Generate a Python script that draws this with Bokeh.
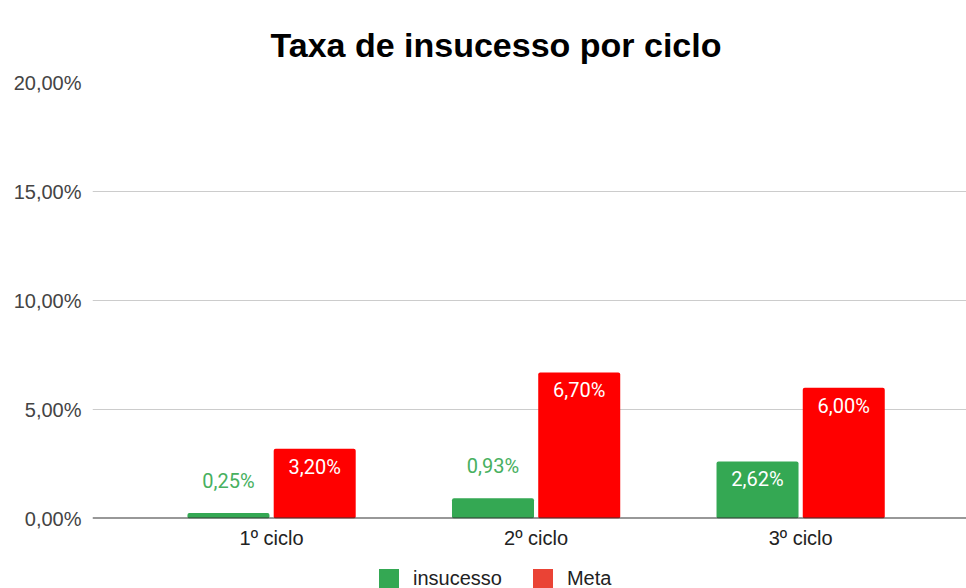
from bokeh.plotting import figure
from bokeh.layouts import column
from bokeh.models import (ColumnDataSource, FixedTicker, Span, Legend, LegendItem, Title)
from bokeh.embed import file_html
from bokeh.resources import INLINE
from bokeh.core.properties import value

# ---- data ----
categories = ["1º ciclo", "2º ciclo", "3º ciclo"]
insucesso = [0.25, 0.93, 2.62]
meta = [3.20, 6.70, 6.00]
y_ticks = [0, 5, 10, 15, 20]
y_tick_labels = ["0,00%", "5,00%", "10,00%", "15,00%", "20,00%"]
title_text = "Taxa de insucesso por ciclo"
series_names = ["insucesso", "Meta"]

AX_FONT = "Liberation Sans"
LBL_FONT = "Roboto"
GREEN = "#34a853"
RED_BAR = "#ff0000"
RED_LEG = "#ea4335"

p = figure(width=966, height=558, output_backend="svg", toolbar_location=None,
           x_range=(-0.677, 2.627), y_range=(0, 20),
           min_border_left=92, min_border_right=0, min_border_top=82,
           min_border_bottom=40)
p.outline_line_color = None
p.background_fill_color = "white"

xs = list(range(len(categories)))
off = 0.163
w = 0.31
src_g = ColumnDataSource(dict(x=[x - off for x in xs], top=insucesso))
src_r = ColumnDataSource(dict(x=[x + off for x in xs], top=meta))
p.vbar(x="x", top="top", width=w, source=src_g, fill_color=GREEN, line_color=None,
       border_radius=2)
p.vbar(x="x", top="top", width=w, source=src_r, fill_color=RED_BAR, line_color=None,
       border_radius=2)

def fmt(v):
    return f"{v:.2f}%".replace(".", ",")

def label_src(xs_, vals, base_color):
    inside = [v > 1.5 for v in vals]
    return ColumnDataSource(dict(
        x=xs_, y=vals, text=[fmt(v) for v in vals],
        yoff=[18 if i else -32 for i in inside],
        color=["white" if i else base_color for i in inside]))

for s, vals, col in ((src_g, insucesso, "#47b060"), (src_r, meta, RED_BAR)):
    ls = label_src(list(s.data["x"]), vals, col)
    p.text(x="x", y="y", text="text", y_offset="yoff", text_color="color", source=ls,
           text_align="center", text_baseline="middle", text_font=value(LBL_FONT),
           text_font_size="20px")

# baseline
p.add_layout(Span(location=0, dimension="width", line_color="#333333", line_width=2))

# axes
p.yaxis.ticker = FixedTicker(ticks=y_ticks)
p.yaxis.major_label_overrides = {t: l for t, l in zip(y_ticks, y_tick_labels)}
p.xaxis.ticker = FixedTicker(ticks=xs)
p.xaxis.major_label_overrides = {x: c for x, c in zip(xs, categories)}
for ax in (p.xaxis, p.yaxis):
    ax.axis_line_color = None
    ax.major_tick_line_color = None
    ax.minor_tick_line_color = None
    ax.major_tick_out = 0
    ax.major_tick_in = 0
    ax.minor_tick_out = 0
    ax.major_label_text_font = AX_FONT
    ax.major_label_text_font_size = "20px"
p.yaxis.major_label_standoff = 11
p.xaxis.major_label_standoff = 8
p.yaxis.major_label_text_color = "#444444"
p.xaxis.major_label_text_color = "#222222"
p.xgrid.grid_line_color = None
p.ygrid.grid_line_color = "#cccccc"
p.ygrid.ticker = FixedTicker(ticks=y_ticks)

# title
t = Title(text=title_text, text_font=AX_FONT, text_font_size="34px", text_font_style="bold",
          text_color="#000000", align="left", offset=178, standoff=38)
p.title = t

# legend strip: a small figure below the chart whose view range shows none of the
# proxy bars (they only supply the legend swatches)
lg = figure(width=966, height=30, output_backend="svg", toolbar_location=None,
            x_axis_location=None, y_axis_location=None, min_border=0,
            x_range=(100, 101), y_range=(100, 101))
lg.outline_line_color = None
lg.grid.grid_line_color = None
rg = lg.vbar(x="x", top="top", width=w, source=src_g, fill_color=GREEN, line_color=None)
rr = lg.vbar(x="x", top="top", width=w, source=src_r, fill_color=RED_LEG, line_color=None)
legend = Legend(items=[LegendItem(label=series_names[0], renderers=[rg]),
                       LegendItem(label=series_names[1], renderers=[rr])],
                orientation="horizontal", location=(284, -3),
                label_text_font=AX_FONT, label_text_font_size="20px",
                label_text_color="#222222", glyph_width=25, glyph_height=25,
                label_height=20, label_standoff=12, spacing=28, padding=0, margin=0,
                border_line_color=None, background_fill_alpha=0)
lg.add_layout(legend, "center")

open("out.html", "w").write(file_html(column(p, lg, spacing=0), INLINE))
